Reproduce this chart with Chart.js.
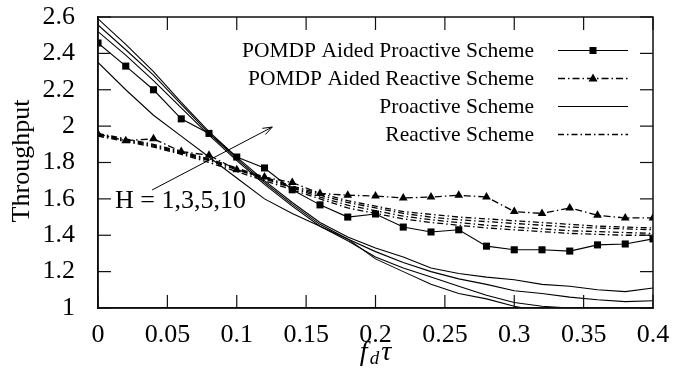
<!DOCTYPE html>
<html>
<head>
<meta charset="utf-8">
<script src="https://cdn.jsdelivr.net/npm/chart.js@4.4.1/dist/chart.umd.min.js"></script>
<style>
  html, body { margin: 0; padding: 0; background: #fff; }
  #wrap { width: 689px; height: 375px; }
</style>
</head>
<body>
<div id="wrap"><canvas id="chart" width="689" height="375"></canvas></div>
<script>
// x values (f_d tau)
const xValues = [0, 0.02, 0.04, 0.06, 0.08, 0.1, 0.12, 0.14, 0.16, 0.18, 0.2,
                 0.22, 0.24, 0.26, 0.28, 0.3, 0.32, 0.34, 0.36, 0.38, 0.4];

// POMDP aided schemes
const pomdpProactive = [2.457, 2.33, 2.2, 2.04, 1.96, 1.83, 1.77, 1.65, 1.567, 1.5, 1.517,
                        1.445, 1.418, 1.43, 1.34, 1.32, 1.32, 1.313, 1.347, 1.352, 1.38];
const pomdpReactive = [1.957, 1.92, 1.93, 1.86, 1.84, 1.76, 1.72, 1.69, 1.63, 1.62, 1.616,
                       1.605, 1.61, 1.62, 1.61, 1.53, 1.52, 1.55, 1.51, 1.495, 1.495];

// Proactive scheme, H = 1,3,5,10
const proactiveA = [2.59, 2.45, 2.30, 2.13, 1.97, 1.83, 1.70, 1.58, 1.47, 1.39, 1.33,
                    1.28, 1.22, 1.19, 1.17, 1.155, 1.13, 1.12, 1.10, 1.09, 1.11];
const proactiveB = [2.556, 2.42, 2.28, 2.12, 1.96, 1.82, 1.69, 1.57, 1.46, 1.38, 1.31,
                    1.25, 1.20, 1.16, 1.13, 1.095, 1.08, 1.06, 1.045, 1.035, 1.04];
const proactiveC = [2.52, 2.39, 2.25, 2.10, 1.95, 1.81, 1.68, 1.56, 1.45, 1.37, 1.28,
                    1.22, 1.17, 1.12, 1.07, 1.03, 1.01, 1.0, 0.99, 0.99, 0.995];
const proactiveD = [2.35, 2.20, 2.06, 1.945, 1.83, 1.715, 1.60, 1.52, 1.45, 1.38, 1.27,
                    1.20, 1.13, 1.08, 1.05, 1.01, 0.98, 0.96, 0.95, 0.95, 0.95];

// Reactive scheme, H = 1,3,5,10
const reactiveA = [1.96, 1.93, 1.90, 1.86, 1.82, 1.77, 1.72, 1.67, 1.63, 1.59, 1.56,
                   1.53, 1.515, 1.50, 1.49, 1.48, 1.47, 1.46, 1.45, 1.445, 1.44];
const reactiveB = [1.955, 1.925, 1.895, 1.855, 1.815, 1.765, 1.715, 1.665, 1.62, 1.58, 1.55,
                   1.52, 1.50, 1.485, 1.475, 1.465, 1.455, 1.445, 1.44, 1.435, 1.43];
const reactiveC = [1.95, 1.92, 1.89, 1.85, 1.81, 1.76, 1.71, 1.66, 1.61, 1.565, 1.535,
                   1.505, 1.485, 1.47, 1.455, 1.445, 1.435, 1.425, 1.42, 1.415, 1.41];
const reactiveD = [1.945, 1.915, 1.885, 1.845, 1.80, 1.75, 1.70, 1.65, 1.60, 1.55, 1.52,
                   1.49, 1.47, 1.455, 1.44, 1.43, 1.42, 1.41, 1.405, 1.40, 1.40];

// tick labels
const xTicks = [0, 0.05, 0.1, 0.15, 0.2, 0.25, 0.3, 0.35, 0.4];
const xTickLabels = ["0", "0.05", "0.1", "0.15", "0.2", "0.25", "0.3", "0.35", "0.4"];
const yTicks = [1, 1.2, 1.4, 1.6, 1.8, 2, 2.2, 2.4, 2.6];
const yTickLabels = ["1", "1.2", "1.4", "1.6", "1.8", "2", "2.2", "2.4", "2.6"];

const legendLabels = ["POMDP Aided Proactive Scheme", "POMDP Aided Reactive Scheme",
                      "Proactive Scheme", "Reactive Scheme"];

// arrow annotation (data units)
const arrowFrom = { x: 0.039, y: 1.649 };
const arrowTo = { x: 0.1256, y: 1.995 };
const hLabel = { text: "H = 1,3,5,10", x: 0.0123, y: 1.6 };

const SERIF = "'Liberation Serif', 'Times New Roman', serif";
const DASHDOT = [6, 3, 1.5, 3];

function pts(ys) {
  return ys.map((y, i) => ({ x: xValues[i], y: y }));
}

function plainLine(ys, dash) {
  return {
    data: pts(ys),
    borderColor: "#000",
    borderWidth: dash ? 1.3 : 1.1,
    borderDash: dash || [],
    pointRadius: 0,
    fill: false
  };
}

const datasets = [
  {
    label: legendLabels[0],
    data: pts(pomdpProactive),
    borderColor: "#000",
    backgroundColor: "#000",
    borderWidth: 1.1,
    pointStyle: "rect",
    pointRadius: 5,
    pointBorderWidth: 0,
    fill: false
  },
  {
    label: legendLabels[1],
    data: pts(pomdpReactive),
    borderColor: "#000",
    backgroundColor: "#000",
    borderWidth: 1.3,
    borderDash: [7, 3, 1.5, 3],
    pointStyle: "triangle",
    pointRadius: 5,
    pointBorderWidth: 0,
    fill: false
  },
  plainLine(proactiveA), plainLine(proactiveB), plainLine(proactiveC), plainLine(proactiveD),
  plainLine(reactiveA, DASHDOT), plainLine(reactiveB, DASHDOT),
  plainLine(reactiveC, DASHDOT), plainLine(reactiveD, DASHDOT)
];

// top/right frame and inward ticks, drawn last
function drawFrame(chart) {
  const ctx = chart.ctx;
  const xs = chart.scales.x, ys = chart.scales.y;
  const L = xs.left, R = xs.right, T = ys.top, B = ys.bottom;
  const tick = 13;
  ctx.save();
  ctx.setLineDash([]);
  ctx.globalAlpha = 1;
  ctx.globalCompositeOperation = "source-over";
  ctx.strokeStyle = "#111";
  ctx.lineWidth = 1.5;
  ctx.beginPath();
  ctx.moveTo(L, T);
  ctx.lineTo(R, T);
  ctx.lineTo(R, B);
  ctx.lineTo(L, B);
  ctx.closePath();
  ctx.stroke();

  ctx.lineWidth = 1.2;
  xTicks.forEach(v => {
    const px = xs.getPixelForValue(v);
    ctx.beginPath();
    ctx.moveTo(px, B); ctx.lineTo(px, B - tick);
    ctx.stroke();
    ctx.beginPath();
    ctx.moveTo(px, T); ctx.lineTo(px, T + tick);
    ctx.stroke();
  });
  yTicks.forEach(v => {
    const py = ys.getPixelForValue(v);
    ctx.beginPath();
    ctx.moveTo(L, py); ctx.lineTo(L + tick, py);
    ctx.stroke();
    ctx.beginPath();
    ctx.moveTo(R, py); ctx.lineTo(R - tick, py);
    ctx.stroke();
  });
  ctx.restore();
}

// legend, arrow and titles
const decorations = {
  id: "decorations",
  afterDraw(chart) {
    const ctx = chart.ctx;
    const xs = chart.scales.x, ys = chart.scales.y;
    const a = chart.chartArea;
    ctx.save();
    ctx.setLineDash([]);
    ctx.fillStyle = "#000";
    ctx.strokeStyle = "#000";

    // legend
    ctx.font = "21.5px " + SERIF;
    ctx.textAlign = "right";
    ctx.textBaseline = "middle";
    const rowY = [50, 78, 106, 134];
    const styles = [
      { dash: [], marker: "rect", w: 1.1 },
      { dash: [7, 3, 1.5, 3], marker: "tri", w: 1.3 },
      { dash: [], marker: null, w: 1.1 },
      { dash: DASHDOT, marker: null, w: 1.3 }
    ];
    legendLabels.forEach((t, i) => {
      const y = rowY[i];
      ctx.fillText(t, 534, y + 1);
      ctx.setLineDash(styles[i].dash);
      ctx.lineWidth = styles[i].w;
      ctx.beginPath();
      ctx.moveTo(558, y + 0.5); ctx.lineTo(628, y + 0.5);
      ctx.stroke();
      ctx.setLineDash([]);
      if (styles[i].marker === "rect") {
        ctx.fillRect(593 - 3.5, y - 3, 7, 7);
      } else if (styles[i].marker === "tri") {
        ctx.beginPath();
        ctx.moveTo(593, y - 4.5);
        ctx.lineTo(597.5, y + 3.5);
        ctx.lineTo(588.5, y + 3.5);
        ctx.closePath();
        ctx.fill();
      }
    });

    // arrow
    const x0 = xs.getPixelForValue(arrowFrom.x), y0 = ys.getPixelForValue(arrowFrom.y);
    const x1 = xs.getPixelForValue(arrowTo.x), y1 = ys.getPixelForValue(arrowTo.y);
    const ang = Math.atan2(y1 - y0, x1 - x0);
    ctx.lineWidth = 1;
    ctx.beginPath();
    ctx.moveTo(x0, y0); ctx.lineTo(x1, y1);
    ctx.moveTo(x1, y1); ctx.lineTo(x1 - 10 * Math.cos(ang - 0.35), y1 - 10 * Math.sin(ang - 0.35));
    ctx.moveTo(x1, y1); ctx.lineTo(x1 - 10 * Math.cos(ang + 0.35), y1 - 10 * Math.sin(ang + 0.35));
    ctx.stroke();

    ctx.font = "26px " + SERIF;
    ctx.textAlign = "left";
    ctx.textBaseline = "alphabetic";
    ctx.fillText(hLabel.text, xs.getPixelForValue(hLabel.x), ys.getPixelForValue(hLabel.y) + 9);

    // y axis title
    ctx.save();
    ctx.translate(22, 161);
    ctx.rotate(-Math.PI / 2);
    ctx.textAlign = "center";
    ctx.textBaseline = "middle";
    ctx.fillText("Throughput", 0, 0);
    ctx.restore();

    // x axis title: f_d tau
    const cx = (a.left + a.right) / 2;
    const base = 360;
    ctx.textAlign = "left";
    ctx.font = "italic 28px " + SERIF;
    const fw = ctx.measureText("f").width;
    ctx.font = "italic 19px " + SERIF;
    const dw = ctx.measureText("d").width;
    ctx.font = "italic 28px " + SERIF;
    const tw = ctx.measureText("τ").width;
    let px = cx - (fw + dw + tw + 4) / 2;
    ctx.fillText("f", px, base);
    px += fw + 2;
    ctx.font = "italic 19px " + SERIF;
    ctx.fillText("d", px, base + 4);
    px += dw + 2;
    ctx.font = "italic 28px " + SERIF;
    ctx.fillText("τ", px, base);
    ctx.restore();

    drawFrame(chart);
  }
};

new Chart(document.getElementById("chart"), {
  type: "line",
  data: { datasets: datasets },
  options: {
    responsive: false,
    animation: false,
    events: [],
    layout: { padding: { left: 0, right: 36, top: 17, bottom: 0 } },
    plugins: { legend: { display: false }, tooltip: { enabled: false } },
    elements: { line: { tension: 0 } },
    scales: {
      x: {
        type: "linear",
        min: 0,
        max: 0.4,
        grid: { display: false, drawTicks: false },
        border: { display: true, color: "#000", width: 1.5 },
        afterBuildTicks: s => { s.ticks = xTicks.map(v => ({ value: v })); },
        afterFit: s => { s.height = 67; s.paddingLeft = 0; s.paddingRight = 0; },
        ticks: {
          padding: 12,
          color: "#000",
          font: { family: SERIF, size: 26 },
          maxRotation: 0,
          autoSkip: false,
          callback: (v, i) => xTickLabels[i]
        }
      },
      y: {
        type: "linear",
        min: 1,
        max: 2.6,
        grid: { display: false, drawTicks: false },
        border: { display: true, color: "#000", width: 1.5 },
        afterBuildTicks: s => { s.ticks = yTicks.map(v => ({ value: v })); },
        afterFit: s => { s.width = 98; s.paddingTop = 0; s.paddingBottom = 0; },
        ticks: {
          padding: 23,
          color: "#000",
          font: { family: SERIF, size: 26 },
          autoSkip: false,
          callback: (v, i) => yTickLabels[i]
        }
      }
    }
  },
  plugins: [decorations]
});
</script>
</body>
</html>
